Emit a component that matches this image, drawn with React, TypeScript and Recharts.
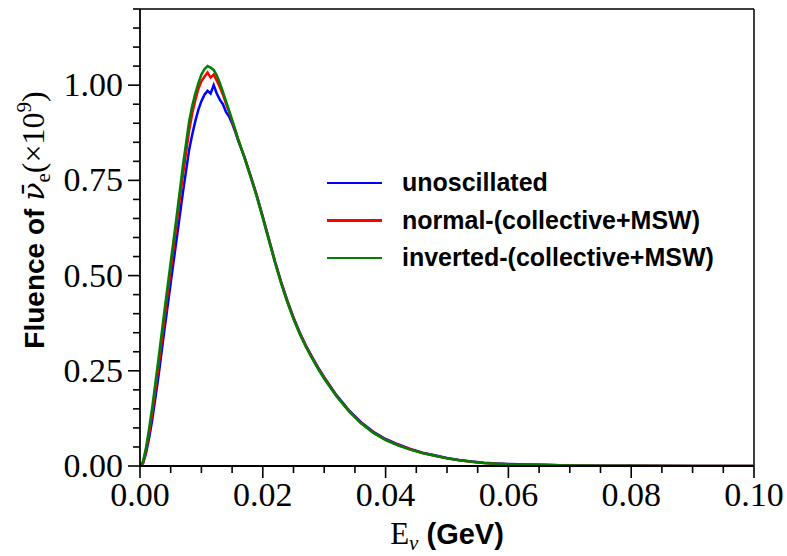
import { LineChart, Line, XAxis, YAxis, ReferenceLine, Legend, Label } from "recharts";

// neutrino energy grid (GeV)
const energy = [
  0, 0.0005, 0.001, 0.0015, 0.002, 0.003, 0.004, 0.005, 0.006, 0.007,
  0.008, 0.0085, 0.009, 0.0095, 0.01, 0.0105, 0.011, 0.0115, 0.012, 0.0125,
  0.013, 0.0135, 0.014, 0.0145, 0.015, 0.0155, 0.016,
  0.017, 0.018, 0.019, 0.02, 0.021, 0.022, 0.023, 0.024, 0.025, 0.026,
  0.027, 0.028, 0.029, 0.03,
  0.032, 0.034, 0.036, 0.038, 0.04, 0.042, 0.044, 0.046, 0.048, 0.05,
  0.052, 0.054, 0.056, 0.058, 0.06,
  0.065, 0.07, 0.075, 0.08, 0.09, 0.1,
];

// fluence in units of 1e9
const unoscillated = [
  0, 0.007, 0.035, 0.075, 0.122, 0.235, 0.36, 0.48, 0.6, 0.72,
  0.83, 0.87, 0.905, 0.935, 0.958, 0.975, 0.985, 0.978, 1.0, 0.978,
  0.962, 0.95, 0.93, 0.918, 0.9, 0.878, 0.854,
  0.812, 0.763, 0.712, 0.655, 0.596, 0.537, 0.483, 0.434, 0.39, 0.351,
  0.317, 0.287, 0.259, 0.233,
  0.186, 0.147, 0.115, 0.09, 0.071, 0.057, 0.045, 0.035, 0.028, 0.021,
  0.016, 0.012, 0.0085, 0.0065, 0.005,
  0.003, 0.0016, 0.0009, 0.0004, 0.0001, 0,
];

const normalMSW = [
  0, 0.009, 0.042, 0.088, 0.14, 0.26, 0.39, 0.515, 0.64, 0.765,
  0.88, 0.925, 0.96, 0.99, 1.01, 1.022, 1.033, 1.02, 1.028, 1.012,
  0.995, 0.975, 0.952, 0.93, 0.906, 0.882, 0.856,
  0.811, 0.761, 0.71, 0.653, 0.594, 0.535, 0.481, 0.432, 0.388, 0.349,
  0.315, 0.285, 0.257, 0.231,
  0.184, 0.145, 0.113, 0.088, 0.069, 0.055, 0.044, 0.034, 0.027, 0.02,
  0.015, 0.011, 0.008, 0.006, 0.0045,
  0.003, 0.0015, 0.0008, 0.0004, 0.0001, 0,
];

const invertedMSW = [
  0, 0.012, 0.05, 0.1, 0.155, 0.28, 0.41, 0.535, 0.66, 0.79,
  0.905, 0.945, 0.978, 1.005, 1.028, 1.042, 1.05, 1.046, 1.04, 1.026,
  1.006, 0.983, 0.958, 0.934, 0.909, 0.884, 0.858,
  0.81, 0.76, 0.708, 0.651, 0.592, 0.533, 0.479, 0.43, 0.386, 0.347,
  0.313, 0.283, 0.255, 0.229,
  0.183, 0.144, 0.112, 0.087, 0.068, 0.054, 0.043, 0.034, 0.027, 0.02,
  0.015, 0.011, 0.008, 0.006, 0.0045,
  0.003, 0.0015, 0.0008, 0.0004, 0.0001, 0,
];

const xTicks = [
  0, 0.005, 0.01, 0.015, 0.02, 0.025, 0.03, 0.035, 0.04, 0.045, 0.05,
  0.055, 0.06, 0.065, 0.07, 0.075, 0.08, 0.085, 0.09, 0.095, 0.1,
];
const xMajor = [0, 0.02, 0.04, 0.06, 0.08, 0.1];

const yTicks = [
  0, 0.05, 0.1, 0.15, 0.2, 0.25, 0.3, 0.35, 0.4, 0.45, 0.5, 0.55, 0.6,
  0.65, 0.7, 0.75, 0.8, 0.85, 0.9, 0.95, 1, 1.05, 1.1, 1.15, 1.2,
];
const yMajor = [0, 0.25, 0.5, 0.75, 1];

const series = [
  { key: "unosc", name: "unoscillated", color: "#0000ff", values: unoscillated },
  { key: "normal", name: "normal-(collective+MSW)", color: "#ff0000", values: normalMSW },
  { key: "inverted", name: "inverted-(collective+MSW)", color: "#008000", values: invertedMSW },
];

const data = energy.map((e, i) => {
  const row: Record<string, number> = { e };
  series.forEach((s) => (row[s.key] = s.values[i]));
  return row;
});

const SERIF = "'Liberation Serif', 'DejaVu Serif', serif";
const SANS = "'Liberation Sans', Arial, sans-serif";

const isMajor = (v: number, majors: number[]) =>
  majors.some((m) => Math.abs(m - v) < 1e-9);

function XTick({ x, y, payload }: any) {
  const major = isMajor(payload.value, xMajor);
  return (
    <g>
      <line x1={x} y1={y} x2={x} y2={y + (major ? 12 : 7)} stroke="#000" strokeWidth={1.6} />
      {major && (
        <text x={x} y={y + 40} textAnchor="middle" fontFamily={SERIF} fontSize={34} fill="#000">
          {payload.value.toFixed(2)}
        </text>
      )}
    </g>
  );
}

function YTick({ x, y, payload }: any) {
  const major = isMajor(payload.value, yMajor);
  return (
    <g>
      <line x1={x} y1={y} x2={x - (major ? 12 : 7)} y2={y} stroke="#000" strokeWidth={1.6} />
      {major && (
        <text x={x - 17} y={y + 11} textAnchor="end" fontFamily={SERIF} fontSize={34} fill="#000">
          {payload.value.toFixed(2)}
        </text>
      )}
    </g>
  );
}

const xTitle = () => (
  <text x={447} y={544} textAnchor="middle" fill="#000">
    <tspan fontFamily={SERIF} fontSize={31}>E</tspan>
    <tspan fontFamily={SERIF} fontStyle="italic" fontSize={21} dy={6}>ν</tspan>
    <tspan fontFamily={SANS} fontWeight="bold" fontSize={29} dy={-6}> (GeV)</tspan>
  </text>
);

// rotated title, centred on (44, 220) of the svg
const yTitle = () => (
  <text x={220} y={44} transform="rotate(-90) translate(-440 0)" textAnchor="middle" fill="#000">
    <tspan fontFamily={SANS} fontWeight="bold" fontSize={28}>Fluence of </tspan>
    <tspan fontFamily="'DejaVu Serif', serif" fontStyle="italic" fontSize={30}>{"ν\u0304"}</tspan>
    <tspan fontFamily={SERIF} fontSize={21} dy={6}>e</tspan>
    <tspan fontFamily={SERIF} fontSize={32} dy={-6}>(×10</tspan>
    <tspan fontFamily={SERIF} fontSize={21} dy={-13}>9</tspan>
    <tspan fontFamily={SERIF} fontSize={32} dy={13}>)</tspan>
  </text>
);

const renderLegend = () => (
  <div>
    {series.map((s) => (
      <div key={s.key} style={{ display: "flex", alignItems: "center", height: 37.5 }}>
        <div style={{ width: 55, height: 2.5, background: s.color, marginLeft: 7 }} />
        <span
          style={{
            marginLeft: 20,
            fontFamily: SANS,
            fontWeight: "bold",
            fontSize: 25,
            color: "#000",
            whiteSpace: "nowrap",
          }}
        >
          {s.name}
        </span>
      </div>
    ))}
  </div>
);

export default function App() {
  return (
    <div style={{ position: "absolute", left: 0, top: 0, width: 787, height: 556, background: "#fff" }}>
      <LineChart
        width={787}
        height={556}
        data={data}
        margin={{ top: 9, right: 33, bottom: 0, left: 0 }}
      >
        <XAxis
          dataKey="e"
          type="number"
          domain={[0, 0.1]}
          ticks={xTicks}
          interval={0}
          allowDataOverflow
          height={90}
          tickSize={0}
          tickMargin={0}
          tickLine={false}
          tick={<XTick />}
          axisLine={{ stroke: "#000", strokeWidth: 1.8 }}
        >
          <Label content={xTitle} />
        </XAxis>
        <YAxis
          type="number"
          domain={[0, 1.2]}
          ticks={yTicks}
          interval={0}
          allowDataOverflow
          width={140}
          tickSize={0}
          tickMargin={0}
          tickLine={false}
          tick={<YTick />}
          axisLine={{ stroke: "#000", strokeWidth: 1.8 }}
        >
          <Label content={yTitle} />
        </YAxis>
        <ReferenceLine y={1.2} stroke="#000" strokeWidth={1.5} />
        <ReferenceLine x={0.1} stroke="#000" strokeWidth={1.5} />
        <Legend
          layout="vertical"
          align="center"
          verticalAlign="middle"
          content={renderLegend}
          wrapperStyle={{ left: 320, top: 164, width: 440 }}
        />
        {series.map((s) => (
          <Line
            key={s.key}
            dataKey={s.key}
            name={s.name}
            type="linear"
            stroke={s.color}
            strokeWidth={2.5}
            dot={false}
            activeDot={false}
            isAnimationActive={false}
          />
        ))}
      </LineChart>
    </div>
  );
}
